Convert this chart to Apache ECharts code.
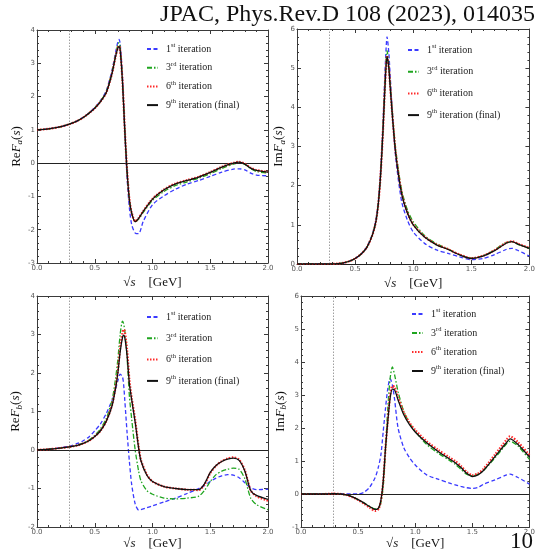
<!DOCTYPE html>
<html>
<head>
<meta charset="utf-8">
<script src="https://cdn.jsdelivr.net/npm/echarts@6/dist/echarts.min.js"></script>
<style>
  html, body { margin: 0; padding: 0; background: #fff; }
  #chart { width: 538px; height: 551px; }
</style>
</head>
<body>
<div id="chart"></div>
<script>
// sqrt(s) in GeV
const xReA = [0, 0.1, 0.2, 0.28, 0.35, 0.4, 0.45, 0.5, 0.55, 0.6, 0.65, 0.68, 0.7, 0.71, 0.72, 0.74, 0.76, 0.78, 0.8, 0.82, 0.85, 0.88, 0.92, 1.0, 1.1, 1.2, 1.3, 1.4, 1.5, 1.6, 1.7, 1.75, 1.8, 1.85, 1.9, 2.0];
const reA1 = [1.0, 1.03, 1.09, 1.17, 1.27, 1.38, 1.51, 1.67, 1.88, 2.18, 2.8, 3.32, 3.65, 3.72, 3.6, 2.6, 0.95, -0.45, -1.35, -1.85, -2.1, -2.12, -1.75, -1.25, -0.98, -0.78, -0.63, -0.52, -0.4, -0.27, -0.18, -0.17, -0.2, -0.3, -0.36, -0.38];
const reA3 = [1.0, 1.03, 1.09, 1.17, 1.27, 1.37, 1.5, 1.66, 1.86, 2.15, 2.75, 3.25, 3.56, 3.62, 3.5, 2.5, 0.98, -0.3, -1.12, -1.52, -1.76, -1.68, -1.48, -1.12, -0.85, -0.67, -0.56, -0.45, -0.32, -0.16, -0.03, 0.01, -0.04, -0.17, -0.25, -0.3];
const reA6 = [1.0, 1.03, 1.09, 1.17, 1.27, 1.37, 1.5, 1.65, 1.85, 2.12, 2.7, 3.2, 3.47, 3.52, 3.42, 2.47, 1.02, -0.23, -1.08, -1.49, -1.75, -1.65, -1.44, -1.07, -0.79, -0.61, -0.51, -0.41, -0.27, -0.11, 0.01, 0.04, -0.02, -0.14, -0.21, -0.26];
const reA9 = [1.0, 1.03, 1.09, 1.17, 1.27, 1.37, 1.5, 1.65, 1.85, 2.12, 2.7, 3.2, 3.46, 3.5, 3.4, 2.45, 1.0, -0.25, -1.1, -1.5, -1.76, -1.66, -1.45, -1.08, -0.8, -0.62, -0.52, -0.42, -0.28, -0.12, 0.0, 0.03, -0.03, -0.15, -0.22, -0.27];

const xImA = [0, 0.1, 0.2, 0.28, 0.35, 0.4, 0.45, 0.5, 0.55, 0.6, 0.65, 0.68, 0.7, 0.72, 0.74, 0.76, 0.775, 0.79, 0.8, 0.82, 0.85, 0.9, 0.95, 1.0, 1.1, 1.2, 1.3, 1.4, 1.5, 1.6, 1.7, 1.8, 1.85, 1.9, 2.0];
const imA1 = [0, 0, 0, 0, 0.01, 0.03, 0.07, 0.14, 0.25, 0.43, 0.77, 1.15, 1.6, 2.4, 3.6, 5.1, 5.8, 5.4, 4.9, 3.9, 2.7, 1.6, 1.12, 0.82, 0.52, 0.36, 0.27, 0.18, 0.11, 0.14, 0.24, 0.37, 0.4, 0.35, 0.2];
const imA3 = [0, 0, 0, 0, 0.01, 0.03, 0.07, 0.14, 0.25, 0.42, 0.76, 1.12, 1.58, 2.35, 3.5, 4.85, 5.45, 5.1, 4.7, 3.9, 2.9, 1.9, 1.38, 1.08, 0.72, 0.52, 0.38, 0.24, 0.15, 0.21, 0.36, 0.55, 0.56, 0.5, 0.4];
const imA6 = [0, 0, 0, 0, 0.01, 0.03, 0.07, 0.14, 0.25, 0.42, 0.75, 1.1, 1.55, 2.3, 3.42, 4.72, 5.32, 5.02, 4.62, 3.82, 2.82, 1.82, 1.31, 1.01, 0.69, 0.5, 0.38, 0.24, 0.15, 0.21, 0.35, 0.54, 0.58, 0.52, 0.41];
const imA9 = [0, 0, 0, 0, 0.01, 0.03, 0.07, 0.14, 0.25, 0.42, 0.75, 1.1, 1.55, 2.3, 3.4, 4.7, 5.3, 5.0, 4.6, 3.8, 2.8, 1.8, 1.3, 1.0, 0.68, 0.49, 0.37, 0.23, 0.14, 0.2, 0.34, 0.53, 0.57, 0.51, 0.4];

const xReB = [0, 0.1, 0.2, 0.28, 0.35, 0.4, 0.45, 0.5, 0.55, 0.6, 0.65, 0.68, 0.7, 0.72, 0.74, 0.75, 0.76, 0.78, 0.8, 0.82, 0.85, 0.88, 0.9, 0.95, 1.0, 1.1, 1.2, 1.3, 1.4, 1.45, 1.5, 1.55, 1.6, 1.65, 1.7, 1.75, 1.8, 1.85, 1.9, 2.0];
const reB1 = [0, 0.02, 0.06, 0.1, 0.17, 0.24, 0.34, 0.5, 0.68, 0.95, 1.3, 1.58, 1.8, 1.97, 1.9, 1.7, 1.3, 0.45, -0.3, -0.9, -1.4, -1.56, -1.55, -1.5, -1.45, -1.35, -1.25, -1.13, -1.0, -0.92, -0.82, -0.73, -0.67, -0.64, -0.65, -0.72, -0.85, -0.98, -1.03, -1.02];
const reB3 = [0, 0.02, 0.05, 0.08, 0.13, 0.18, 0.26, 0.38, 0.55, 0.82, 1.3, 1.85, 2.35, 3.0, 3.35, 3.28, 3.1, 2.4, 1.4, 0.8, 0.0, -0.55, -0.8, -1.05, -1.15, -1.25, -1.27, -1.25, -1.2, -1.05, -0.82, -0.64, -0.55, -0.5, -0.47, -0.5, -0.75, -1.25, -1.42, -1.55];
const reB6 = [0, 0.02, 0.05, 0.08, 0.12, 0.17, 0.24, 0.35, 0.5, 0.75, 1.17, 1.63, 2.05, 2.65, 3.05, 3.13, 3.08, 2.6, 1.82, 1.35, 0.78, 0.08, -0.26, -0.63, -0.82, -0.95, -1.0, -1.03, -1.04, -0.9, -0.6, -0.41, -0.29, -0.22, -0.19, -0.25, -0.53, -1.05, -1.2, -1.32];
const reB9 = [0, 0.02, 0.05, 0.08, 0.12, 0.17, 0.24, 0.35, 0.5, 0.75, 1.15, 1.6, 2.0, 2.55, 2.92, 2.98, 2.92, 2.45, 1.72, 1.3, 0.72, 0.05, -0.28, -0.65, -0.82, -0.95, -1.0, -1.03, -1.03, -0.88, -0.58, -0.4, -0.3, -0.24, -0.21, -0.27, -0.55, -1.05, -1.18, -1.28];

const xImB = [0, 0.1, 0.2, 0.28, 0.35, 0.4, 0.45, 0.5, 0.55, 0.6, 0.65, 0.68, 0.7, 0.72, 0.74, 0.76, 0.78, 0.8, 0.82, 0.85, 0.9, 0.95, 1.0, 1.1, 1.2, 1.3, 1.35, 1.4, 1.45, 1.5, 1.55, 1.6, 1.7, 1.8, 1.83, 1.9, 2.0];
const imB1 = [0, 0, 0, 0, 0, 0, 0, 0, 0.05, 0.2, 0.5, 0.85, 1.2, 1.9, 2.6, 3.2, 3.5, 3.3, 2.85, 2.0, 1.4, 1.1, 0.88, 0.58, 0.45, 0.33, 0.28, 0.23, 0.19, 0.17, 0.2, 0.3, 0.43, 0.58, 0.6, 0.5, 0.3];
const imB3 = [0, 0, 0, 0.01, 0, -0.03, -0.09, -0.17, -0.27, -0.37, -0.45, -0.42, -0.25, 0.25, 1.35, 2.6, 3.5, 3.85, 3.6, 3.1, 2.5, 2.15, 1.9, 1.5, 1.24, 1.02, 0.9, 0.75, 0.6, 0.55, 0.6, 0.72, 1.1, 1.52, 1.6, 1.45, 1.05];
const imB6 = [0, 0, 0, 0.01, 0, -0.03, -0.1, -0.18, -0.29, -0.41, -0.51, -0.45, -0.2, 0.38, 1.4, 2.25, 2.98, 3.27, 3.24, 2.93, 2.47, 2.16, 1.94, 1.6, 1.34, 1.11, 1.0, 0.85, 0.67, 0.57, 0.62, 0.77, 1.2, 1.65, 1.75, 1.57, 1.18];
const imB9 = [0, 0, 0, 0.01, 0, -0.03, -0.09, -0.17, -0.27, -0.38, -0.47, -0.42, -0.18, 0.4, 1.4, 2.2, 2.9, 3.18, 3.15, 2.85, 2.4, 2.1, 1.88, 1.55, 1.29, 1.06, 0.95, 0.8, 0.63, 0.53, 0.58, 0.72, 1.14, 1.56, 1.67, 1.5, 1.12];

const iterNames = ['1st iteration', '3rd iteration', '6th iteration', '9th iteration (final)'];
const threshold = 0.28; // 2 m_pi

const serif = '"Liberation Serif", "DejaVu Serif", serif';

const lineStyles = [
  { color: '#3a3aff', width: 1.3, type: [4, 2.5] },
  { color: '#1fa51f', width: 1.3, type: [5, 2, 1.5, 2] },
  { color: '#ff2a2a', width: 2.2, type: [1.5, 1.5] },
  { color: '#111111', width: 1.3, type: 'solid' },
];

const panels = [
  { x: xReA, ys: [reA1, reA3, reA6, reA9], min: -3, max: 4, part: 'Re', idx: 'a', nameGap: 12,
    grid: { left: 37, top: 30, width: 231, height: 233 }, legend: { left: 146, top: 42, gap: 6.7 } },
  { x: xImA, ys: [imA1, imA3, imA6, imA9], min: 0, max: 6, part: 'Im', idx: 'a', nameGap: 6,
    grid: { left: 297, top: 29, width: 236, height: 235 }, legend: { left: 407, top: 43, gap: 9.7 } },
  { x: xReB, ys: [reB1, reB3, reB6, reB9], min: -2, max: 4, part: 'Re', idx: 'b', nameGap: 13,
    grid: { left: 37, top: 296, width: 231, height: 231 }, legend: { left: 146, top: 310, gap: 9.3 } },
  { x: xImB, ys: [imB1, imB3, imB6, imB9], min: -1, max: 6, part: 'Im', idx: 'b', nameGap: 9,
    grid: { left: 301, top: 296, width: 232, height: 231 }, legend: { left: 411, top: 307, gap: 7 } },
];

const frameColor = '#3a3a3a';
const tickLabel = { fontSize: 7, color: '#555', fontFamily: '"DejaVu Sans", sans-serif', margin: 2 };

function frameAxis(extra) {
  return Object.assign({
    type: 'value',
    axisLine: { show: true, onZero: false, lineStyle: { color: frameColor, width: 1 } },
    axisTick: { show: true, inside: true, length: 4, lineStyle: { color: frameColor } },
    minorTick: { show: true, splitNumber: 5, length: 2, lineStyle: { color: frameColor } },
    splitLine: { show: false },
  }, extra);
}

const grids = [], xAxes = [], yAxes = [], legends = [], series = [];

panels.forEach((p, i) => {
  grids.push(Object.assign({ containLabel: false }, p.grid));
  xAxes.push(frameAxis({
    gridIndex: i, position: 'bottom', min: 0, max: 2, interval: 0.5,
    axisLabel: Object.assign({ formatter: (v) => v.toFixed(1), showMinLabel: true, showMaxLabel: true }, tickLabel),
    name: '{r|√}{i|s}{n|    [GeV]}', nameLocation: 'middle', nameGap: i < 2 ? 13 : 9,
    nameTextStyle: {
      fontFamily: serif, fontSize: 13, color: '#111',
      rich: {
        r: { fontFamily: serif, fontSize: 13, color: '#111' },
        i: { fontFamily: serif, fontSize: 13, fontStyle: 'italic', color: '#111' },
        n: { fontFamily: serif, fontSize: 13, color: '#111' },
      },
    },
  }));
  xAxes.push(frameAxis({ gridIndex: i, position: 'top', min: 0, max: 2, interval: 0.5, axisLabel: { show: false } }));
  yAxes.push(frameAxis({
    gridIndex: i, position: 'left', min: p.min, max: p.max, interval: 1,
    axisLabel: tickLabel,
    name: `{n|${p.part}}{i|F}{sub|${p.idx}}{n|(}{i|s}{n|)}`, nameLocation: 'middle', nameGap: p.nameGap,
    nameTextStyle: {
      fontFamily: serif, fontSize: 13, color: '#111',
      rich: {
        n: { fontFamily: serif, fontSize: 13, lineHeight: 16, color: '#111' },
        i: { fontFamily: serif, fontSize: 13, lineHeight: 16, fontStyle: 'italic', color: '#111' },
        sub: { fontFamily: serif, fontSize: 9, lineHeight: 10, fontStyle: 'italic', verticalAlign: 'bottom', color: '#111' },
      },
    },
  }));
  yAxes.push(frameAxis({ gridIndex: i, position: 'right', min: p.min, max: p.max, interval: 1, axisLabel: { show: false } }));

  legends.push({
    data: iterNames,
    orient: 'vertical',
    left: p.legend.left, top: p.legend.top,
    itemGap: p.legend.gap, itemWidth: 11, itemHeight: 10, padding: 0,
    selectedMode: false,
    itemStyle: { opacity: 0 },
    formatter: (name) => name.replace(/^(\d)(st|rd|th)(.*)$/, '{n|$1}{sup|$2}{n|$3}'),
    textStyle: {
      fontFamily: serif, fontSize: 10, color: '#222', padding: [0, 0, 0, 3],
      rich: {
        n: { fontFamily: serif, fontSize: 10, lineHeight: 14, color: '#222' },
        sup: { fontFamily: serif, fontSize: 6.5, lineHeight: 6, verticalAlign: 'top', color: '#222' },
      },
    },
  });

  p.ys.forEach((ys, k) => {
    const s = {
      name: iterNames[k],
      type: 'line',
      xAxisIndex: 2 * i,
      yAxisIndex: 2 * i,
      data: p.x.map((v, j) => [v, ys[j]]),
      smooth: 0.25,
      symbol: 'none',
      silent: true,
      lineStyle: lineStyles[k],
      itemStyle: { color: lineStyles[k].color },
      z: 3 + k,
    };
    if (k === 0) {
      s.markLine = {
        silent: true, symbol: ['none', 'none'], label: { show: false }, animation: false,
        data: [
          { yAxis: 0, lineStyle: { color: '#222', width: 1.2, type: 'solid' } },
          { xAxis: threshold, lineStyle: { color: '#888', width: 0.8, type: [1.5, 1.5] } },
        ],
      };
    }
    series.push(s);
  });
});

const chart = echarts.init(document.getElementById('chart'), null, { renderer: 'canvas' });
chart.setOption({
  animation: false,
  backgroundColor: '#fff',
  grid: grids,
  xAxis: xAxes,
  yAxis: yAxes,
  legend: legends,
  series: series,
  graphic: [
    { type: 'text', right: 3, top: 3,
      style: { text: 'JPAC, Phys.Rev.D 108 (2023), 014035', font: '24px "Liberation Serif", serif', fill: '#111' } },
    { type: 'text', right: 5, top: 530,
      style: { text: '10', font: '23px "Liberation Serif", serif', fill: '#111' } },
  ],
});
</script>
</body>
</html>
